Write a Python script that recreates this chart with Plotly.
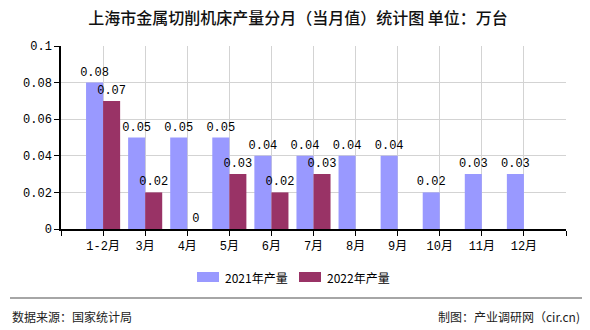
import plotly.graph_objects as go

months = ["1-2月", "3月", "4月", "5月", "6月", "7月", "8月", "9月", "10月", "11月", "12月"]
y2021 = [0.08, 0.05, 0.05, 0.05, 0.04, 0.04, 0.04, 0.04, 0.02, 0.03, 0.03]
y2022 = [0.07, 0.02, 0, 0.03, 0.02, 0.03, None, None, None, None, None]
series_names = ["2021年产量", "2022年产量"]
colors = ["#9999FF", "#993366"]
yticks = [0, 0.02, 0.04, 0.06, 0.08, 0.1]

num_font = "Liberation Mono, DejaVu Sans Mono, monospace"
cjk_font = "Noto Sans CJK SC, sans-serif"

xs = list(range(len(months)))

def fmt(v):
    if v is None:
        return ""
    return "0" if v == 0 else f"{v:g}"

fig = go.Figure()
for name, vals, col in zip(series_names, [y2021, y2022], colors):
    fig.add_trace(go.Bar(
        x=xs, y=vals, name=name, marker=dict(color=col, line=dict(width=0)),
        text=[fmt(v) for v in vals], textposition="outside",
        textfont=dict(family=num_font, size=12, color="#000"),
        constraintext="none",
        cliponaxis=False, showlegend=False,
    ))

tickvals = [-1] + xs + [len(months)]
ticktext = [""] + months + [""]

fig.update_layout(
    width=590, height=330,
    margin=dict(l=61, r=24, t=46, b=101),
    paper_bgcolor="white", plot_bgcolor="white",
    barmode="group", bargap=0.19, bargroupgap=0,
    title=dict(text="上海市金属切削机床产量分月（当月值）统计图 单位：万台",
               x=0.505, xanchor="center", y=0.945, yanchor="middle",
               font=dict(family=cjk_font, size=16, color="#111", weight=500)),
    xaxis=dict(range=[-1, len(months)], tickvals=tickvals, ticktext=ticktext,
               showgrid=True, gridcolor="#d3d3d3", gridwidth=1,
               showline=True, linecolor="#000", linewidth=1.5,
               ticks="outside", ticklen=5, tickcolor="#000",
               tickfont=dict(family="Liberation Mono, Noto Sans CJK SC", size=12, color="#000"),
               zeroline=False, fixedrange=True),
    yaxis=dict(range=[0, 0.1], tickvals=yticks, ticktext=[f"{v:g}" for v in yticks],
               showgrid=True, gridcolor="#d3d3d3", gridwidth=1,
               showline=True, linecolor="#000", linewidth=1.5,
               ticks="outside", ticklen=5, tickcolor="#000",
               tickfont=dict(family=num_font, size=12, color="#000"),
               zeroline=False, fixedrange=True),
)

# manual legend
legend_items = [(197, 219, 223), (299, 321, 325)]
for (x0, x1, tx), name, col in zip(legend_items, series_names, colors):
    fig.add_shape(type="rect", xref="paper", yref="paper",
                  x0=(x0 - 61) / 505, x1=(x1 - 61) / 505,
                  y0=(229 - 272) / 183, y1=(229 - 282) / 183,
                  fillcolor=col, line=dict(width=0))
    fig.add_annotation(text=name, xref="paper", yref="paper",
                       x=(tx - 61) / 505, y=(229 - 277) / 183,
                       xanchor="left", yanchor="middle", showarrow=False,
                       font=dict(family=cjk_font, size=12, color="#000"))

# footer line and texts
fig.add_shape(type="line", xref="paper", yref="paper",
              x0=(10 - 61) / 505, x1=(582 - 61) / 505,
              y0=(229 - 298) / 183, y1=(229 - 298) / 183,
              line=dict(color="#888", width=1.5))
fig.add_annotation(text="数据来源：国家统计局", xref="paper", yref="paper",
                   x=(10 - 61) / 505, y=(229 - 316) / 183, xanchor="left", yanchor="middle",
                   showarrow=False, font=dict(family=cjk_font, size=12, color="#222"))
fig.add_annotation(text="制图：产业调研网（cir.cn)", xref="paper", yref="paper",
                   x=(582 - 61) / 505, y=(229 - 316) / 183, xanchor="right", yanchor="middle",
                   showarrow=False, font=dict(family=cjk_font, size=12, color="#222"))

fig.write_html("out.html")
